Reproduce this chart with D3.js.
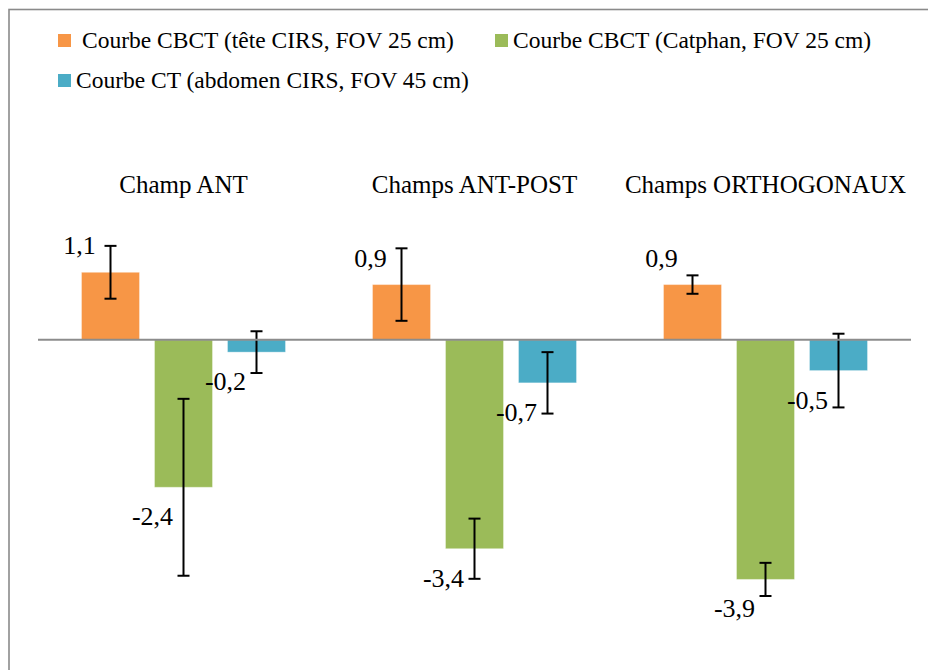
<!DOCTYPE html>
<html>
<head>
<meta charset="utf-8">
<script src="https://cdn.jsdelivr.net/npm/d3@7"></script>
<style>
  html, body { margin: 0; padding: 0; background: #fff; }
  svg { display: block; }
  text { font-family: "Liberation Serif", "DejaVu Serif", serif; fill: #000; }
</style>
</head>
<body>
<svg id="chart" width="928" height="670"></svg>
<script>
// Field categories
const categories = ["Champ ANT", "Champs ANT-POST", "Champs ORTHOGONAUX"];
// Calibration curves (series)
const series = [
  "Courbe CBCT (tête CIRS, FOV 25 cm)",
  "Courbe CBCT (Catphan, FOV 25 cm)",
  "Courbe CT (abdomen CIRS, FOV 45 cm)"
];
const colors = ["#F79646", "#9BBB59", "#4BACC6"];
// Mean deviation per series, one value per category
const cbctTete = [1.1, 0.9, 0.9];
const cbctCatphan = [-2.4, -3.4, -3.9];
const ctAbdomen = [-0.2, -0.7, -0.5];
// Error bar half-widths (same layout)
const errCbctTete = [0.43, 0.59, 0.15];
const errCbctCatphan = [1.44, 0.49, 0.27];
const errCtAbdomen = [0.34, 0.5, 0.6];

const values = [cbctTete, cbctCatphan, ctAbdomen];
const errors = [errCbctTete, errCbctCatphan, errCtAbdomen];
const fmt = v => String(v).replace(".", ",");

const svg = d3.select("#chart");

// Outer frame
svg.append("rect")
  .attr("x", 9).attr("y", 9.5)
  .attr("width", 940).attr("height", 700)
  .attr("fill", "none").attr("stroke", "#8a8a8a").attr("stroke-width", 1.6);

const x0 = d3.scaleBand().domain(categories).range([38, 911]);
const x1 = d3.scaleBand().domain(d3.range(series.length))
  .range([43.5, 247.5]).paddingInner(0.2055);
const y = d3.scaleLinear().domain([-5, 2]).range([647, 217]);

const points = [];
categories.forEach((c, ci) => {
  series.forEach((s, si) => {
    points.push({ c, si, v: values[si][ci], e: errors[si][ci] });
  });
});

const g = svg.append("g");

// Bars
g.selectAll("rect.bar").data(points).join("rect")
  .attr("class", "bar")
  .attr("x", d => x0(d.c) + x1(d.si))
  .attr("width", x1.bandwidth())
  .attr("y", d => y(Math.max(0, d.v)))
  .attr("height", d => Math.abs(y(d.v) - y(0)))
  .attr("fill", d => colors[d.si])
  .attr("stroke", "#ffffff").attr("stroke-opacity", 0.35).attr("stroke-width", 1);

// Zero axis line
svg.append("line")
  .attr("x1", x0.range()[0]).attr("x2", x0.range()[1])
  .attr("y1", y(0)).attr("y2", y(0))
  .attr("stroke", "#8c8c8c").attr("stroke-width", 2);

// Error bars
const cx = d => x0(d.c) + x1(d.si) + x1.bandwidth() / 2;
const eb = g.selectAll("g.err").data(points).join("g").attr("class", "err")
  .attr("stroke", "#000").attr("stroke-width", 2);
eb.append("line")
  .attr("x1", cx).attr("x2", cx)
  .attr("y1", d => y(d.v + d.e)).attr("y2", d => y(d.v - d.e));
eb.append("line")
  .attr("x1", d => cx(d) - 6).attr("x2", d => cx(d) + 6)
  .attr("y1", d => y(d.v + d.e)).attr("y2", d => y(d.v + d.e));
eb.append("line")
  .attr("x1", d => cx(d) - 6).attr("x2", d => cx(d) + 6)
  .attr("y1", d => y(d.v - d.e)).attr("y2", d => y(d.v - d.e));

// Value labels
g.selectAll("text.val").data(points).join("text")
  .attr("class", "val")
  .attr("x", d => cx(d) - 31)
  .attr("y", d => d.v >= 0 ? y(d.v) - 18 : y(d.v) + 38)
  .attr("text-anchor", "middle")
  .attr("font-size", 26)
  .text(d => fmt(d.v));

// Category titles
svg.selectAll("text.cat").data(categories).join("text")
  .attr("class", "cat")
  .attr("x", d => x0(d) + x0.bandwidth() / 2)
  .attr("y", 193)
  .attr("text-anchor", "middle")
  .attr("font-size", 25)
  .text(d => d);

// Legend
const legendPos = [[58, 47], [495, 47], [58, 87]];
const lg = svg.selectAll("g.legend").data(series).join("g")
  .attr("class", "legend")
  .attr("transform", (d, i) => `translate(${legendPos[i][0]},${legendPos[i][1]})`);
lg.append("rect")
  .attr("x", 0).attr("y", -13).attr("width", 13).attr("height", 13)
  .attr("fill", (d, i) => colors[i]);
lg.append("text")
  .attr("x", (d, i) => i === 0 ? 24 : 18)
  .attr("y", 1)
  .attr("font-size", 23.5)
  .text(d => d);
</script>
</body>
</html>
